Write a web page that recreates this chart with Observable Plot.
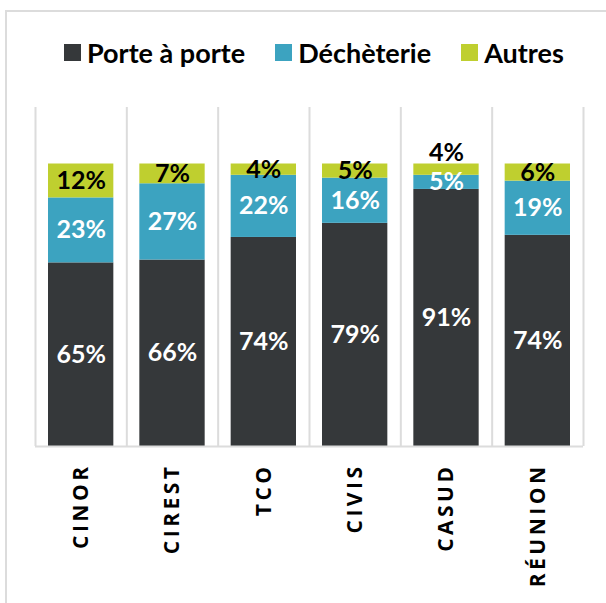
<!DOCTYPE html>
<html>
<head>
<meta charset="utf-8">
<script src="https://cdn.jsdelivr.net/npm/d3@7"></script>
<script src="https://cdn.jsdelivr.net/npm/@observablehq/plot@0.6"></script>
<style>
  html, body { margin: 0; padding: 0; background: #fff; overflow: hidden; }
  #wrap { position: relative; width: 606px; height: 603px; overflow: hidden; }
  #border { position: absolute; left: 5px; top: 10px; width: 800px; height: 800px;
            border-left: 2px solid #dcdcdc; border-top: 2px solid #dcdcdc; }
  #legend { position: relative; height: 104px; display: flex; align-items: center;
            padding-left: 64px; box-sizing: border-box; font-family: Lato, sans-serif;
            font-weight: bold; font-size: 27px; color: #000; }
  #legend .item { display: flex; align-items: center; margin-right: 30px; }
  #legend .sw { width: 17px; height: 17px; margin-right: 6px; }
  #chart { position: relative; }
</style>
</head>
<body>
<div id="wrap">
  <div id="border"></div>
  <div id="legend"></div>
  <div id="chart"></div>
</div>
<script>
const categories = ["CINOR", "CIREST", "TCO", "CIVIS", "CASUD", "RÉUNION"];
const seriesNames = ["Porte à porte", "Déchèterie", "Autres"];
const porteAPorte = [65, 66, 74, 79, 91, 74];
const decheterie = [23, 27, 22, 16, 5, 19];
const autres = [12, 7, 4, 5, 4, 6];
const seriesColors = ["#35383a", "#3ca3c0", "#bfcf2f"];

const seriesValues = [porteAPorte, decheterie, autres];

// tidy table with normalized stacking
const rows = [];
categories.forEach((cat, i) => {
  const total = d3.sum(seriesValues, s => s[i]);
  let cum = 0;
  seriesNames.forEach((name, k) => {
    const v = seriesValues[k][i];
    rows.push({i, cat, type: name, k, value: v, y1: cum / total, y2: (cum + v) / total});
    cum += v;
  });
});
// labels: small top segment sitting on a small segment goes above the bar
rows.forEach(r => {
  const below = rows.find(q => q.i === r.i && q.k === r.k - 1);
  r.above = r.k === 2 && (r.y2 - r.y1) < 0.045 && below && (below.y2 - below.y1) < 0.06;
  r.ly = r.above ? r.y2 : (r.y1 + r.y2) / 2;
});

// legend
const legend = document.getElementById("legend");
seriesNames.forEach((name, k) => {
  const it = document.createElement("div");
  it.className = "item";
  it.innerHTML = `<span class="sw" style="background:${seriesColors[k]}"></span><span>${name}</span>`;
  legend.appendChild(it);
});

const tickPos = categories.map((c, i) => i + 0.5);

const plot = Plot.plot({
  width: 606,
  height: 499,
  marginTop: 3,
  marginBottom: 157,
  marginLeft: 35,
  marginRight: 23,
  style: {fontFamily: "Lato, sans-serif", background: "transparent", overflow: "visible"},
  x: {
    domain: [0, categories.length],
    ticks: tickPos,
    tickFormat: d => categories[Math.round(d - 0.5)],
    tickRotate: -90,
    tickSize: 0,
    tickPadding: 17,
    label: null
  },
  y: {domain: [0, 1.2], axis: null},
  color: {domain: seriesNames, range: seriesColors},
  marks: [
    Plot.ruleX(d3.range(categories.length + 1), {y1: 0, y2: 1.2, stroke: "#dcdcdc", strokeWidth: 2}),
    Plot.rectY(rows, {x1: "i", x2: d => d.i + 1, y1: "y1", y2: "y2", fill: "type", insetLeft: 13, insetRight: 13}),
    Plot.ruleY([0], {stroke: "#dcdcdc", strokeWidth: 2}),
    Plot.text(rows.filter(r => r.k < 2), {
      x: d => d.i + 0.5, y: "ly", text: d => d.value + "%",
      fill: "white", fontSize: 25, fontWeight: "bold"
    }),
    Plot.text(rows.filter(r => r.k === 2 && !r.above), {
      x: d => d.i + 0.5, y: "ly", text: d => d.value + "%",
      fill: "black", fontSize: 25, fontWeight: "bold"
    }),
    Plot.text(rows.filter(r => r.above), {
      x: d => d.i + 0.5, y: "ly", text: d => d.value + "%",
      fill: "black", fontSize: 25, fontWeight: "bold", dy: -11
    })
  ]
});
// style the category tick labels (bold, larger, letter-spaced)
d3.select(plot).selectAll("text")
  .filter(function () { return categories.includes(this.textContent); })
  .style("font-size", "21px")
  .style("font-weight", "bold")
  .style("font-family", "'Open Sans', sans-serif")
  .style("letter-spacing", "3.5px");
document.getElementById("chart").appendChild(plot);
</script>
</body>
</html>
